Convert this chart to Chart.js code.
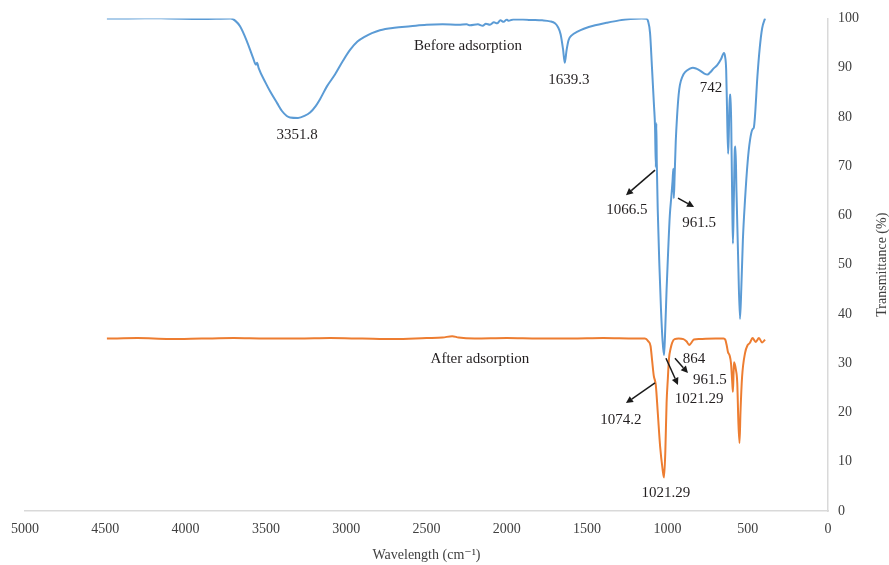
<!DOCTYPE html>
<html>
<head>
<meta charset="utf-8">
<script src="https://cdn.jsdelivr.net/npm/chart.js@4/dist/chart.umd.min.js"></script>
<style>
  html, body { margin: 0; padding: 0; background: #ffffff; }
  #wrap { width: 889px; height: 565px; }
</style>
</head>
<body>
<div id="wrap"><canvas id="ftir" width="889" height="565"></canvas></div>
<script>
// FTIR spectra: wavenumber (cm-1) and transmittance (%)
const beforeWavenumber = [4490, 4200, 3900, 3720, 3690, 3661, 3620, 3580, 3562, 3555, 3545, 3500, 3474, 3430, 3400, 3370, 3350, 3300, 3260, 3225, 3190, 3163, 3120, 3070, 3020, 2976, 2930, 2883, 2840, 2790, 2700, 2600, 2500, 2400, 2300, 2250, 2229, 2180, 2150, 2130, 2105, 2080, 2060, 2040, 2020, 2000, 1990, 1960, 1900, 1856, 1780, 1731, 1700, 1681, 1665, 1650, 1639, 1628, 1615, 1594, 1560, 1520, 1450, 1380, 1300, 1230, 1160, 1130, 1121, 1108, 1096, 1083, 1077, 1072, 1069, 1066, 1060, 1050, 1040, 1030, 1021, 1015, 1005, 995, 985, 975, 968, 963, 960, 955, 948, 940, 930, 922, 905, 890, 860, 841, 820, 797, 770, 750, 735, 710, 690, 665, 648, 641, 634, 629, 622, 618, 612, 606, 600, 596, 592, 587, 580, 576, 570, 560, 548, 540, 530, 517, 500, 486, 470, 462, 455, 440, 425, 410, 392];
const beforeTransmittance = [100, 100.1, 99.9, 100, 99.5, 98.4, 95.5, 92.0, 90.6, 91.0, 89.9, 86.8, 85.2, 82.8, 81.2, 80.2, 79.9, 79.8, 80.2, 80.9, 82.2, 83.6, 86.2, 88.6, 91.4, 93.6, 95.3, 96.3, 97.0, 97.6, 98.1, 98.4, 98.7, 98.8, 98.7, 98.8, 98.6, 98.8, 98.5, 98.9, 98.7, 99.2, 99.0, 99.6, 99.3, 99.8, 99.5, 99.8, 99.8, 99.7, 99.6, 99.4, 99.0, 98.2, 96.8, 93.8, 91.0, 93.5, 95.6, 96.6, 97.3, 97.9, 98.6, 99.1, 99.6, 99.9, 100, 99.9, 99.5, 97.0, 90.0, 82.0, 78.0, 69.8, 78.7, 70.5, 61.0, 50.0, 41.0, 34.5, 31.6, 35.5, 45.0, 53.0, 60.0, 64.0, 67.0, 69.5, 63.5, 68.0, 75.0, 80.0, 84.5, 86.5, 88.3, 89.1, 89.8, 90.0, 89.8, 89.4, 88.8, 88.6, 89.0, 89.9, 90.5, 91.8, 93.0, 92.3, 89.5, 82.0, 72.5, 76.0, 84.5, 84.5, 72.0, 62.0, 54.3, 62.0, 73.5, 74.0, 65.0, 52.0, 39.0, 45.0, 55.0, 63.0, 71.0, 75.2, 77.5, 77.8, 80.0, 88.0, 94.0, 98.0, 100];

const afterWavenumber = [4490, 4300, 4100, 3900, 3700, 3500, 3300, 3100, 2900, 2700, 2500, 2400, 2340, 2300, 2200, 2000, 1800, 1600, 1400, 1200, 1140, 1120, 1105, 1095, 1085, 1076, 1072, 1060, 1045, 1030, 1021, 1013, 1005, 997, 990, 980, 970, 955, 930, 900, 880, 864, 850, 835, 800, 700, 650, 640, 630, 623, 612, 604, 596, 592, 588, 585, 573, 565, 558, 551, 545, 535, 517, 500, 487, 470, 450, 430, 410, 392];
const afterTransmittance = [35.0, 35.1, 34.9, 35.0, 35.1, 35.0, 35.0, 35.1, 35.0, 34.9, 35.1, 35.2, 35.5, 35.2, 35.0, 35.1, 35.0, 35.0, 35.1, 35.0, 35.0, 34.5, 33.5, 30.5, 27.5, 26.3, 25.5, 20.0, 13.0, 8.5, 6.8, 12.0, 22.0, 27.0, 31.0, 33.0, 34.2, 34.9, 35.0, 34.9, 34.4, 33.7, 34.2, 34.8, 34.9, 35.0, 35.0, 34.8, 33.5, 32.3, 31.5, 30.0, 26.0, 24.2, 28.0, 30.2, 28.6, 26.0, 18.0, 13.8, 20.0, 27.2, 32.0, 33.7, 34.1, 35.1, 34.3, 35.1, 34.2, 34.8];

// axis ticks
const xTickValues = [5000, 4500, 4000, 3500, 3000, 2500, 2000, 1500, 1000, 500, 0];
const yTickValues = [0, 10, 20, 30, 40, 50, 60, 70, 80, 90, 100];

// peak labels: text, wavenumber, transmittance
const peakLabelText = ['3351.8', 'Before adsorption', '1639.3', '742', '1066.5', '961.5', 'After adsorption', '864', '961.5', '1021.29', '1074.2', '1021.29'];
const peakLabelX = [3306, 2242, 1613, 729, 1252, 803, 2167, 834, 735, 803, 1289, 1009];
const peakLabelY = [76.3, 94.3, 87.4, 85.8, 61.1, 58.4, 30.8, 30.8, 26.6, 22.7, 18.5, 3.65];

// pointer arrows: from (x0,y0) to (x1,y1) in data units
const arrowFromX = [1077, 934, 953, 1009, 1077];
const arrowFromY = [69.2, 63.5, 31.0, 31.0, 26.0];
const arrowToX = [1258, 834, 872, 934, 1258];
const arrowToY = [64.1, 61.7, 28.0, 25.6, 21.9];

const toPoints = (xs, ys) => xs.map((x, i) => ({ x: x, y: ys[i] }));

const serif = '"Liberation Serif", "DejaVu Serif", serif';

const annotationPlugin = {
  id: 'peakAnnotations',
  afterDatasetsDraw(chart) {
    const ctx = chart.ctx;
    const xs = chart.scales.x, ys = chart.scales.y;
    ctx.save();
    // arrows
    ctx.strokeStyle = '#1a1a1a';
    ctx.fillStyle = '#1a1a1a';
    ctx.lineWidth = 1.5;
    for (let i = 0; i < arrowFromX.length; i++) {
      const x0 = xs.getPixelForValue(arrowFromX[i]), y0 = ys.getPixelForValue(arrowFromY[i]);
      const x1 = xs.getPixelForValue(arrowToX[i]), y1 = ys.getPixelForValue(arrowToY[i]);
      const ang = Math.atan2(y1 - y0, x1 - x0);
      const head = 7, wing = 3.5;
      const bx = x1 - head * Math.cos(ang), by = y1 - head * Math.sin(ang);
      ctx.beginPath();
      ctx.moveTo(x0, y0);
      ctx.lineTo(bx, by);
      ctx.stroke();
      ctx.beginPath();
      ctx.moveTo(x1, y1);
      ctx.lineTo(bx + wing * Math.sin(ang), by - wing * Math.cos(ang));
      ctx.lineTo(bx - wing * Math.sin(ang), by + wing * Math.cos(ang));
      ctx.closePath();
      ctx.fill();
    }
    // labels
    ctx.font = '15px ' + serif;
    ctx.textAlign = 'center';
    ctx.textBaseline = 'middle';
    ctx.fillStyle = '#231f20';
    for (let i = 0; i < peakLabelText.length; i++) {
      ctx.fillText(peakLabelText[i], xs.getPixelForValue(peakLabelX[i]), ys.getPixelForValue(peakLabelY[i]));
    }
    // vertical axis title, reading upward
    ctx.font = '14px ' + serif;
    ctx.fillStyle = '#404040';
    ctx.translate(882, (chart.chartArea.top + chart.chartArea.bottom) / 2);
    ctx.rotate(-Math.PI / 2);
    ctx.fillText('Transmittance (%)', 0, 0);
    ctx.restore();
  }
};

new Chart(document.getElementById('ftir'), {
  type: 'line',
  data: {
    datasets: [
      {
        label: 'Before adsorption',
        data: toPoints(beforeWavenumber, beforeTransmittance),
        borderColor: '#5B9BD5',
        borderWidth: 2,
        pointRadius: 0,
        cubicInterpolationMode: 'monotone'
      },
      {
        label: 'After adsorption',
        data: toPoints(afterWavenumber, afterTransmittance),
        borderColor: '#ED7D31',
        borderWidth: 2,
        pointRadius: 0,
        cubicInterpolationMode: 'monotone'
      }
    ]
  },
  options: {
    responsive: false,
    animation: false,
    events: [],
    layout: { padding: { left: 25, right: 0, top: 18, bottom: 0 } },
    plugins: { legend: { display: false }, tooltip: { enabled: false } },
    scales: {
      x: {
        type: 'linear',
        reverse: true,
        min: 0,
        max: 5000,
        afterBuildTicks(scale) { scale.ticks = xTickValues.map(v => ({ value: v })); },
        afterFit(scale) { scale.height = 54; },
        grid: { display: false, drawTicks: false },
        border: { display: true, color: '#d9d9d9', width: 1.5 },
        ticks: { padding: 10, color: '#404040', font: { family: serif, size: 14 }, maxRotation: 0, autoSkip: false, callback: v => String(v) },
        title: { display: true, text: 'Wavelength (cm⁻¹)', color: '#404040', font: { family: serif, size: 14 }, padding: { top: 0, bottom: 1 } }
      },
      y: {
        position: 'right',
        min: 0,
        max: 100,
        afterBuildTicks(scale) { scale.ticks = yTickValues.map(v => ({ value: v })); },
        afterFit(scale) { scale.width = 61; },
        grid: { display: false, drawTicks: false },
        border: { display: true, color: '#d9d9d9', width: 1.5 },
        ticks: { padding: 10, color: '#404040', font: { family: serif, size: 14 }, callback: v => String(v) }
      }
    }
  },
  plugins: [annotationPlugin]
});
</script>
</body>
</html>
